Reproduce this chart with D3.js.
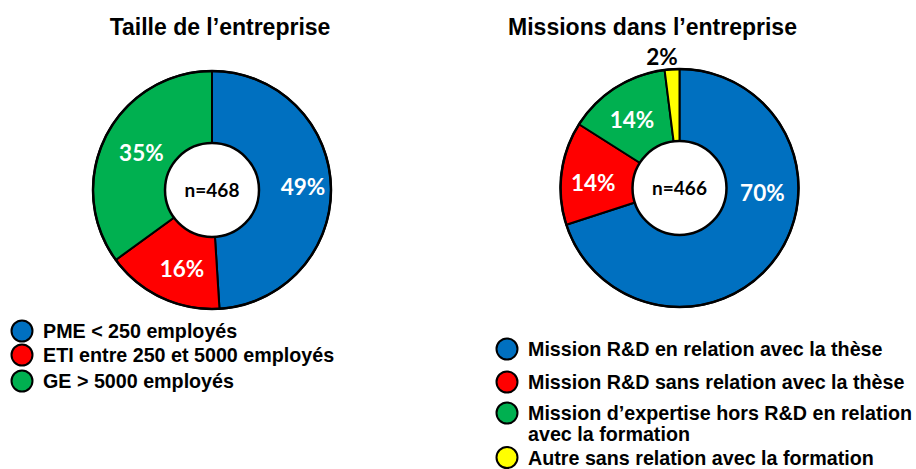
<!DOCTYPE html>
<html>
<head>
<meta charset="utf-8">
<script src="https://cdn.jsdelivr.net/npm/d3@7"></script>
<style>
  html, body { margin: 0; padding: 0; background: #fff; }
  svg { display: block; }
</style>
</head>
<body>
<svg id="chart" width="916" height="469"></svg>
<script>
// ---- Data ----
const leftTitle = "Taille de l’entreprise";
const leftCategories = ["PME < 250 employés", "ETI entre 250 et 5000 employés", "GE > 5000 employés"];
const leftValues = [49, 16, 35];
const leftN = "n=468";

const rightTitle = "Missions dans l’entreprise";
const rightCategories = [
  "Mission R&D en relation avec la thèse",
  "Mission R&D sans relation avec la thèse",
  "Mission d’expertise hors R&D en relation\navec la formation",
  "Autre sans relation avec la formation"
];
const rightValues = [70, 14, 14, 2];
const rightN = "n=466";

const leftColors = ["#0070C0", "#FF0000", "#00B050"];
const rightColors = ["#0070C0", "#FF0000", "#00B050", "#FFFF00"];

// ---- Layout (label placement, degrees clockwise from top) ----
const leftLabelPos = [{a: 88, r: 91}, {a: 201, r: 84}, {a: 298, r: 80}];
const rightLabelPos = [{a: 93.5, r: 83}, {a: 273.3, r: 86.5}, {a: 325, r: 83}, {a: 352.4, r: 132}];

// ---- Drawing ----
const svg = d3.select("#chart");
const titleFont = "'Liberation Sans', Arial, sans-serif";
const labelFont = "Lato, 'Open Sans', sans-serif";

function donut(cfg) {
  const g = svg.append("g").attr("transform", `translate(${cfg.cx},${cfg.cy})`);
  const pie = d3.pie().sort(null).value(d => d);
  const arcs = pie(cfg.values);
  const arc = d3.arc().innerRadius(0).outerRadius(cfg.r);
  g.selectAll("path.slice").data(arcs).join("path")
    .attr("class", "slice")
    .attr("d", arc)
    .attr("fill", (d, i) => cfg.colors[i])
    .attr("stroke", "#000")
    .attr("stroke-width", 2)
    .attr("stroke-linejoin", "round");
  g.append("circle").attr("r", cfg.r).attr("fill", "none").attr("stroke", "#000").attr("stroke-width", 2.5);
  g.append("circle").attr("r", cfg.ri).attr("fill", "#fff").attr("stroke", "#000").attr("stroke-width", 2.5);
  g.append("text").text(cfg.n)
    .attr("text-anchor", "middle").attr("dy", "0.35em")
    .attr("font-family", labelFont).attr("font-weight", 700).attr("font-size", 19)
    .attr("fill", "#000");
  g.selectAll("text.lab").data(arcs).join("text")
    .attr("class", "lab")
    .attr("transform", (d, i) => {
      const p = cfg.labelPos[i];
      const a = p.a * Math.PI / 180;
      return `translate(${Math.sin(a) * p.r},${-Math.cos(a) * p.r})`;
    })
    .attr("text-anchor", "middle").attr("dy", "0.36em")
    .attr("font-family", labelFont).attr("font-weight", 700).attr("font-size", 22.5)
    .attr("fill", d => d.value < 5 ? "#000" : "#fff")
    .text(d => d.value + "%");
  svg.append("text").text(cfg.title)
    .attr("x", cfg.tx).attr("y", 35)
    .attr("text-anchor", "middle")
    .attr("font-family", titleFont).attr("font-weight", 700).attr("font-size", 23)
    .attr("fill", "#000");
}

donut({cx: 212, cy: 190, r: 119, ri: 47, values: leftValues, colors: leftColors, n: leftN, title: leftTitle, tx: 220, labelPos: leftLabelPos});
donut({cx: 679.5, cy: 188, r: 119, ri: 47, values: rightValues, colors: rightColors, n: rightN, title: rightTitle, tx: 652.5, labelPos: rightLabelPos});

function legend(items, colors, x, ys, fs, gap) {
  const g = svg.append("g");
  items.forEach((t, i) => {
    const y = ys[i];
    g.append("circle").attr("cx", x).attr("cy", y).attr("r", 10.5)
      .attr("fill", colors[i]).attr("stroke", "#000").attr("stroke-width", 2);
    const lines = t.split("\n");
    lines.forEach((ln, j) => {
      g.append("text").text(ln)
        .attr("x", x + 21).attr("y", y + j * gap).attr("dy", "0.36em")
        .attr("font-family", titleFont).attr("font-weight", 700).attr("font-size", fs)
        .attr("fill", "#000");
    });
  });
}
legend(leftCategories, leftColors, 22, [331, 355, 381], 19.7, 22);
legend(rightCategories, rightColors, 507, [349, 382, 413, 457.5], 19.7, 21);
</script>
</body>
</html>
